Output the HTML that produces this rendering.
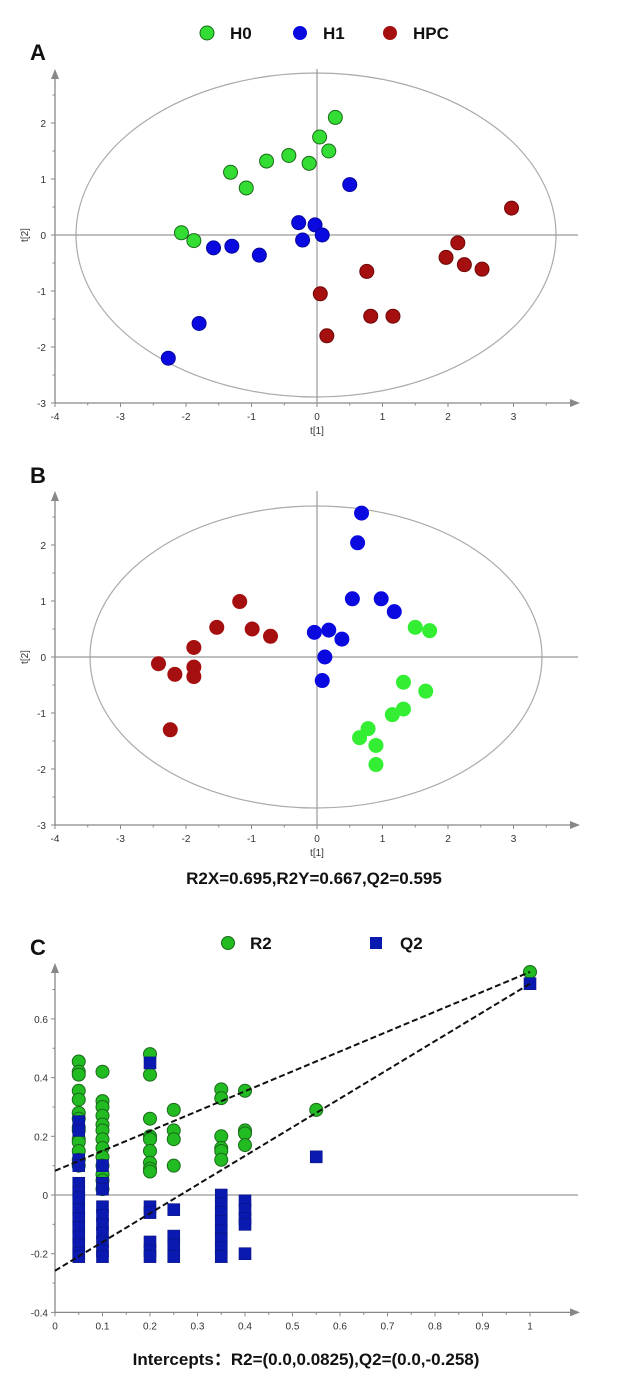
<!DOCTYPE html>
<html><head><meta charset="utf-8"><style>
body{margin:0;background:#fff}
svg{display:block;font-family:"Liberation Sans",sans-serif}
.tk{font-size:10px;fill:#333}
.b{font-weight:bold;fill:#111}
</style></head><body>
<svg id="s" width="630" height="1394" viewBox="0 0 630 1394">
<g>
<circle cx="207" cy="33" r="7" fill="#33dd33" stroke="#1a6b1a"/>
<text x="230" y="39" class="b" font-size="17">H0</text>
<circle cx="300" cy="33" r="7" fill="#0a0ae0"/>
<text x="323" y="39" class="b" font-size="17">H1</text>
<circle cx="390" cy="33" r="7" fill="#a50f0f"/>
<text x="413" y="39" class="b" font-size="17">HPC</text>
</g>
<text x="30" y="60" class="b" font-size="22">A</text>
<text x="30" y="483" class="b" font-size="22">B</text>
<text x="30" y="955" class="b" font-size="22">C</text>
<text x="314" y="884" class="b" font-size="17" text-anchor="middle">R2X=0.695,R2Y=0.667,Q2=0.595</text>
<g>
<circle cx="228" cy="943" r="6.5" fill="#22bb22" stroke="#1a6b1a"/>
<text x="250" y="949" class="b" font-size="17">R2</text>
<rect x="370" y="937" width="12" height="12" fill="#0a1ab0"/>
<text x="400" y="949" class="b" font-size="17">Q2</text>
</g>
<text x="306" y="1365" class="b" font-size="17" text-anchor="middle">Intercepts：R2=(0.0,0.0825),Q2=(0.0,-0.258)</text>
</svg>
<script>
const aH0x=[0.28,0.04,0.18,-0.43,-0.77,-0.12,-1.32,-1.08,-2.07,-1.88];
const aH0y=[2.1,1.75,1.5,1.42,1.32,1.28,1.12,0.84,0.04,-0.1];
const aH1x=[0.5,-0.28,-0.03,0.08,-0.22,-1.58,-1.3,-0.88,-1.8,-2.27];
const aH1y=[0.9,0.22,0.18,0.0,-0.09,-0.23,-0.2,-0.36,-1.58,-2.2];
const aHPCx=[2.97,2.15,1.97,2.25,2.52,0.76,0.05,0.82,1.16,0.15];
const aHPCy=[0.48,-0.14,-0.4,-0.53,-0.61,-0.65,-1.05,-1.45,-1.45,-1.8];
const bH1x=[0.68,0.62,0.54,0.98,1.18,-0.04,0.18,0.38,0.12,0.08];
const bH1y=[2.57,2.04,1.04,1.04,0.81,0.44,0.48,0.32,0.0,-0.42];
const bH0x=[1.5,1.72,1.32,1.66,1.32,1.15,0.78,0.65,0.9,0.9];
const bH0y=[0.53,0.47,-0.45,-0.61,-0.93,-1.03,-1.28,-1.44,-1.58,-1.92];
const bHPCx=[-1.18,-1.53,-0.99,-0.71,-1.88,-2.42,-2.17,-1.88,-1.88,-2.24];
const bHPCy=[0.99,0.53,0.5,0.37,0.17,-0.12,-0.31,-0.18,-0.35,-1.3];
const scoreXTicks=["-4","-3","-2","-1","0","1","2","3"];
const scoreYTicks=["-3","-2","-1","0","1","2"];
const cXTicks=["0","0.1","0.2","0.3","0.4","0.5","0.6","0.7","0.8","0.9","1"];
const cYTicks=["-0.4","-0.2","0","0.2","0.4","0.6"];
const r2x=[0.05,0.05,0.05,0.05,0.05,0.05,0.05,0.05,0.05,0.05,0.05,0.05,0.05,0.05,0.1,0.1,0.1,0.1,0.1,0.1,0.1,0.1,0.1,0.1,0.1,0.1,0.1,0.2,0.2,0.2,0.2,0.2,0.2,0.2,0.2,0.2,0.25,0.25,0.25,0.25,0.35,0.35,0.35,0.35,0.35,0.35,0.4,0.4,0.4,0.4,0.55,1];
const r2y=[0.455,0.42,0.41,0.355,0.325,0.28,0.26,0.23,0.22,0.19,0.18,0.15,0.12,0.1,0.42,0.32,0.30,0.27,0.24,0.22,0.19,0.16,0.13,0.1,0.07,0.05,0.02,0.48,0.41,0.26,0.2,0.19,0.15,0.11,0.09,0.08,0.29,0.22,0.19,0.1,0.36,0.33,0.2,0.16,0.15,0.12,0.355,0.22,0.21,0.17,0.29,0.76];
const q2x=[0.05,0.05,0.05,0.05,0.05,0.05,0.05,0.05,0.05,0.05,0.05,0.05,0.05,0.05,0.1,0.1,0.1,0.1,0.1,0.1,0.1,0.1,0.1,0.1,0.2,0.2,0.2,0.2,0.2,0.2,0.25,0.25,0.25,0.25,0.35,0.35,0.35,0.35,0.35,0.35,0.35,0.35,0.4,0.4,0.4,0.4,0.4,0.55,1];
const q2y=[0.25,0.22,0.12,0.1,0.04,0.01,-0.01,-0.05,-0.08,-0.11,-0.14,-0.17,-0.2,-0.21,0.1,0.04,0.02,-0.04,-0.07,-0.1,-0.13,-0.16,-0.19,-0.21,0.45,-0.04,-0.06,-0.16,-0.19,-0.21,-0.05,-0.14,-0.17,-0.21,0.0,-0.03,-0.06,-0.09,-0.12,-0.15,-0.18,-0.21,-0.02,-0.05,-0.08,-0.1,-0.2,0.13,0.72];
const r2Intercept=[0.0825,0.76];
const q2Intercept=[-0.258,0.72];

const NS="http://www.w3.org/2000/svg";
const svg=document.getElementById('s');
function mk(t,a,p){const e=document.createElementNS(NS,t);for(const k in a)e.setAttribute(k,a[k]);(p||svg).appendChild(e);return e;}

function scoreAxes(g,y0,yunit,topY,ell){
  const X=v=>317+v*65.5, Y=v=>y0-v*yunit, bot=Y(-3);
  const el=mk('ellipse',{cx:ell[0],cy:ell[1],rx:ell[2],ry:ell[3],fill:'none',stroke:'#aaa','stroke-width':1.2},g);
  
  
  mk('line',{x1:55,y1:bot,x2:570,y2:bot,stroke:'#888','stroke-width':1.3},g);
  mk('polygon',{points:`570,${bot-4} 580,${bot} 570,${bot+4}`,fill:'#888'},g);
  mk('line',{x1:55,y1:bot,x2:55,y2:topY+10,stroke:'#888','stroke-width':1.3},g);
  mk('polygon',{points:`51,${topY+10} 55,${topY} 59,${topY+10}`,fill:'#888'},g);
  mk('line',{x1:X(0),y1:topY,x2:X(0),y2:bot,stroke:'#999','stroke-width':1.2},g);
  mk('line',{x1:55,y1:Y(0),x2:578,y2:Y(0),stroke:'#999','stroke-width':1.2},g);
  scoreXTicks.forEach((t,i)=>{const v=+t,x=X(v);
    mk('line',{x1:x,y1:bot,x2:x,y2:bot+4,stroke:'#888'},g);
    if(v<3.5)mk('line',{x1:X(v+0.5),y1:bot,x2:X(v+0.5),y2:bot+2.5,stroke:'#888'},g);
    const tx=mk('text',{x:x,y:bot+17,'text-anchor':'middle',class:'tk'},g);tx.textContent=t;
    
    });
  scoreYTicks.forEach(t=>{const v=+t,y=Y(v);
    mk('line',{x1:51,y1:y,x2:55,y2:y,stroke:'#888'},g);
    mk('line',{x1:52.5,y1:Y(v+0.5),x2:55,y2:Y(v+0.5),stroke:'#888'},g);
    const tx=mk('text',{x:46,y:y+4,'text-anchor':'end',class:'tk'},g);tx.textContent=t;
    
    });
  const xl=mk('text',{x:X(0),y:bot+31,'text-anchor':'middle',class:'tk'},g);xl.textContent='t[1]';
  
  
  const yl=mk('text',{x:28,y:Y(0),'text-anchor':'middle',class:'tk',transform:`rotate(-90 28 ${Y(0)})`},g);yl.textContent='t[2]';
  
  
  return [X,Y];
}
function dots(g,X,Y,xs,ys,fill,stroke,name){
  xs.forEach((v,i)=>{const c=mk('circle',{cx:X(v),cy:Y(ys[i]),r:7,fill:fill,stroke:stroke,'stroke-width':1},g);
    
    });
}
// Panel A
const gA=mk('g',{});


let [XA,YA]=scoreAxes(gA,235,56,69,[316,235,240,162]);
dots(gA,XA,YA,aH0x,aH0y,'#33dd33','#1a6b1a','point-h0');
dots(gA,XA,YA,aH1x,aH1y,'#0a0ae0','#0606a0','point-h1');
dots(gA,XA,YA,aHPCx,aHPCy,'#a50f0f','#700808','point-hpc');
// Panel B
const gB=mk('g',{});


let [XB,YB]=scoreAxes(gB,657,56,491,[316,657,226,151]);
dots(gB,XB,YB,bH1x,bH1y,'#0a0ae0','#0a0ae0','point-h1');
dots(gB,XB,YB,bH0x,bH0y,'#33ee33','#33ee33','point-h0');
dots(gB,XB,YB,bHPCx,bHPCy,'#a50f0f','#a50f0f','point-hpc');
// Panel C
const gC=mk('g',{});


const XC=v=>55+v*475, YC=v=>1195-v*293.5, botC=YC(-0.4);
mk('line',{x1:55,y1:botC,x2:570,y2:botC,stroke:'#888','stroke-width':1.3},gC);
mk('polygon',{points:`570,${botC-4} 580,${botC} 570,${botC+4}`,fill:'#888'},gC);
mk('line',{x1:55,y1:botC,x2:55,y2:973,stroke:'#888','stroke-width':1.3},gC);
mk('polygon',{points:`51,973 55,963 59,973`,fill:'#888'},gC);
mk('line',{x1:55,y1:YC(0),x2:578,y2:YC(0),stroke:'#999','stroke-width':1.2},gC);
cXTicks.forEach(t=>{const v=+t,x=XC(v);
  mk('line',{x1:x,y1:botC,x2:x,y2:botC+4,stroke:'#888'},gC);
  if(v<1)mk('line',{x1:XC(v+0.05),y1:botC,x2:XC(v+0.05),y2:botC+2.5,stroke:'#888'},gC);
  const tx=mk('text',{x:x,y:botC+17,'text-anchor':'middle',class:'tk'},gC);tx.textContent=t;
  
  });
cYTicks.forEach(t=>{const v=+t,y=YC(v);
  mk('line',{x1:51,y1:y,x2:55,y2:y,stroke:'#888'},gC);
  mk('line',{x1:52.5,y1:YC(v+0.1),x2:55,y2:YC(v+0.1),stroke:'#888'},gC);
  const tx=mk('text',{x:48,y:y+4,'text-anchor':'end',class:'tk'},gC);tx.textContent=t;
  
  });
r2x.forEach((v,i)=>{const c=mk('circle',{cx:XC(v),cy:YC(r2y[i]),r:6.5,fill:'#22bb22',stroke:'#1a6b1a','stroke-width':1},gC);
  
  });
q2x.forEach((v,i)=>{const r=mk('rect',{x:XC(v)-6,y:YC(q2y[i])-6,width:12,height:12,fill:'#0a1ab0',stroke:'#0a1480','stroke-width':0.6},gC);
  
  });
const l1=mk('line',{x1:XC(0),y1:YC(r2Intercept[0]),x2:XC(1),y2:YC(r2Intercept[1]),stroke:'#111','stroke-width':2,'stroke-dasharray':'6,3'},gC);


const l2=mk('line',{x1:XC(0),y1:YC(q2Intercept[0]),x2:XC(1),y2:YC(q2Intercept[1]),stroke:'#111','stroke-width':2,'stroke-dasharray':'6,3'},gC);


</script>
</body></html>
